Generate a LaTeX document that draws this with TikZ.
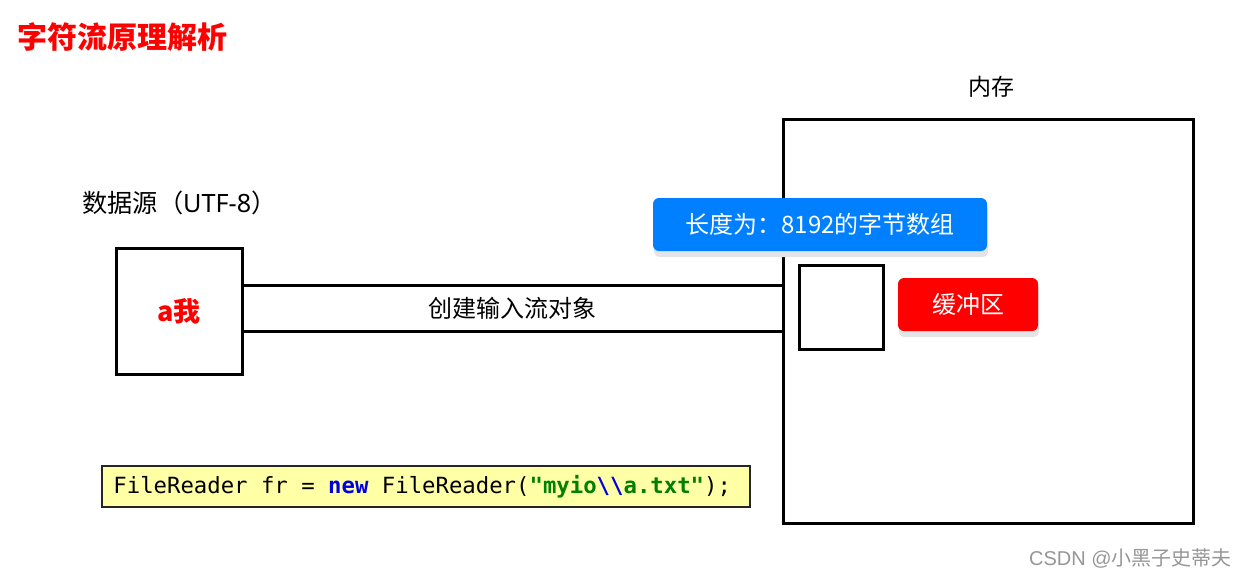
\documentclass[tikz,border=0pt]{standalone}
\usepackage{fontspec}
\setmainfont{Noto Sans CJK SC}
\setmonofont{DejaVu Sans Mono}
\newfontfamily\wmfont{Liberation Sans}
\newfontfamily\latinfont{Noto Sans}
\usetikzlibrary{calc}
\definecolor{boxblue}{RGB}{0,128,255}
\definecolor{boxred}{RGB}{255,0,0}
\definecolor{codebg}{RGB}{255,255,165}
\definecolor{shadowgray}{RGB}{228,228,232}
\definecolor{kwblue}{RGB}{0,0,225}
\definecolor{strgreen}{RGB}{0,128,0}
\definecolor{wmgray}{RGB}{150,150,150}
\tikzset{
  frame/.style={draw=black, line width=1.5pt, fill=white, inner sep=0pt},
  link/.style={draw=black, line width=1.5pt},
  tag/.style={rounded corners=3pt, inner sep=0pt, text=white, font=\fontsize{12pt}{14pt}\selectfont},
  shade/.style={fill=shadowgray, rounded corners=3pt},
  plain/.style={inner sep=0pt, font=\fontsize{11.5pt}{13pt}\selectfont}
}
\begin{document}
\begin{tikzpicture}[x=0.5pt,y=-0.5pt]
\useasboundingbox (0,0) rectangle (1236,580);
% title
\node[anchor=west, inner sep=0pt, text=boxred, font=\fontsize{15pt}{17pt}\selectfont\bfseries] (title) at (17,37) {字符流原理解析};
% labels
\node[plain, anchor=west, font=\fontsize{12.6pt}{14pt}\selectfont] (srclbl) at (82,203) {数据源（{\latinfont UTF-8}）};
\node[plain] (memlbl) at (991,87) {内存};
% boxes
\node[frame, minimum width=63pt, minimum height=63pt, text=boxred, font=\fontsize{13.5pt}{15pt}\selectfont\bfseries] (src) at (179,311) {a我};
\node[frame, minimum width=205pt, minimum height=202pt] (mem) at (988.5,321.5) {};
\node[frame, minimum width=42pt, minimum height=42pt] (buf) at (841.5,307.5) {};
% connectors
\draw[link] ([yshift=13pt]src.east) coordinate (l1a) -- (l1a -| mem.west) coordinate (l1b);
\draw[link] ([yshift=-10pt]src.east) coordinate (l2a) -- (l2a -| mem.west) coordinate (l2b);
\node[inner sep=0pt, font=\fontsize{12pt}{14pt}\selectfont] (create) at (512,308) {创建输入流对象};
% blue tag
\fill[shade] (654,204) rectangle (988,257);
\node[tag, fill=boxblue, minimum width=167pt, minimum height=26.5pt] (arr) at (820,224.5) {长度为：8192的字节数组};
% red tag
\fill[shade] (899,284) rectangle (1039,337);
\node[tag, fill=boxred, minimum width=70pt, minimum height=26.5pt] (buftag) at (968,304.5) {缓冲区};
% code
\node[draw=black!85, line width=0.75pt, fill=codebg, minimum width=324pt, minimum height=20.5pt, inner sep=0pt] (code) at (426,486.5) {};
\node[inner sep=0pt, anchor=west, font=\ttfamily\fontsize{11.15pt}{13pt}\selectfont] (codetxt) at (113,487)
  {FileReader fr = {\bfseries\color{kwblue}new} FileReader({\bfseries\color{strgreen}"myio}{\bfseries\color{kwblue}\textbackslash\textbackslash}{\bfseries\color{strgreen}a.txt"});};
% watermark
\node[anchor=east, inner sep=0pt, text=wmgray, font=\fontsize{10pt}{11pt}\selectfont] (wm) at (1232,558) {{\wmfont CSDN @}小黑子史蒂夫};
\end{tikzpicture}
\end{document}
